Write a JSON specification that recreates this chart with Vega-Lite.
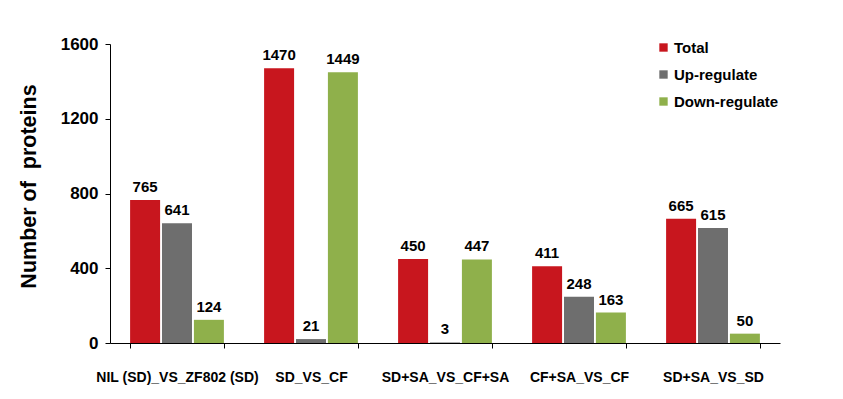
{
  "$schema": "https://vega.github.io/schema/vega-lite/v6.json",
  "autosize": "none",
  "width": 670,
  "height": 299,
  "padding": {"left": 110, "top": 44, "right": 63, "bottom": 56},
  "background": "white",
  "config": {"view": {"stroke": null}, "font": "Liberation Sans"},
  "data": {"values": [
    {"group": "NIL (SD)_VS_ZF802 (SD)", "type": "Total", "value": 765},
    {"group": "NIL (SD)_VS_ZF802 (SD)", "type": "Up-regulate", "value": 641},
    {"group": "NIL (SD)_VS_ZF802 (SD)", "type": "Down-regulate", "value": 124},
    {"group": "SD_VS_CF", "type": "Total", "value": 1470},
    {"group": "SD_VS_CF", "type": "Up-regulate", "value": 21},
    {"group": "SD_VS_CF", "type": "Down-regulate", "value": 1449},
    {"group": "SD+SA_VS_CF+SA", "type": "Total", "value": 450},
    {"group": "SD+SA_VS_CF+SA", "type": "Up-regulate", "value": 3},
    {"group": "SD+SA_VS_CF+SA", "type": "Down-regulate", "value": 447},
    {"group": "CF+SA_VS_CF", "type": "Total", "value": 411},
    {"group": "CF+SA_VS_CF", "type": "Up-regulate", "value": 248},
    {"group": "CF+SA_VS_CF", "type": "Down-regulate", "value": 163},
    {"group": "SD+SA_VS_SD", "type": "Total", "value": 665},
    {"group": "SD+SA_VS_SD", "type": "Up-regulate", "value": 615},
    {"group": "SD+SA_VS_SD", "type": "Down-regulate", "value": 50}
  ]},
  "encoding": {
    "x": {
      "field": "group", "type": "nominal", "sort": null,
      "scale": {"paddingInner": 0.3, "paddingOuter": 0.15},
      "axis": {
        "title": null, "labelAngle": 0, "labelFont": "Liberation Sans",
        "labelFontSize": 14, "labelFontWeight": "bold", "labelColor": "black",
        "labelPadding": 22, "tickBand": "extent", "tickColor": "black", "tickSize": 5,
        "domainColor": "black", "labelLimit": 300
      }
    },
    "xOffset": {
      "field": "type", "type": "nominal", "sort": ["Total", "Up-regulate", "Down-regulate"],
      "scale": {"paddingInner": 0.06, "paddingOuter": 0}
    },
    "y": {
      "field": "value", "type": "quantitative",
      "scale": {"domain": [0, 1600], "nice": false},
      "axis": {
        "title": "Number of\u00a0 proteins", "titleFontSize": 21.5, "titleFontWeight": "bold",
        "titleColor": "black", "titlePadding": 20, "titleY": 142, "format": "d",
        "values": [0, 400, 800, 1200, 1600], "grid": false,
        "labelFontSize": 17, "labelFontWeight": "bold", "labelColor": "black",
        "labelPadding": 7, "tickColor": "black", "tickSize": 5, "domainColor": "black"
      }
    }
  },
  "layer": [
    {
      "mark": {"type": "bar"},
      "encoding": {
        "color": {
          "field": "type", "type": "nominal",
          "scale": {"domain": ["Total", "Up-regulate", "Down-regulate"], "range": ["#C8161E", "#6E6E6E", "#8FB04B"]},
          "legend": {
            "title": null, "orient": "none", "legendX": 546, "legendY": -4,
            "symbolType": "square", "symbolSize": 70, "symbolStrokeWidth": 0,
            "labelFontSize": 15, "labelFontWeight": "bold", "labelColor": "black",
            "rowPadding": 11, "labelOffset": 3
          }
        }
      }
    },
    {
      "mark": {"type": "text", "dy": -13, "fontSize": 15, "fontWeight": "bold", "color": "black"},
      "encoding": {"text": {"field": "value", "type": "quantitative"}}
    }
  ]
}
